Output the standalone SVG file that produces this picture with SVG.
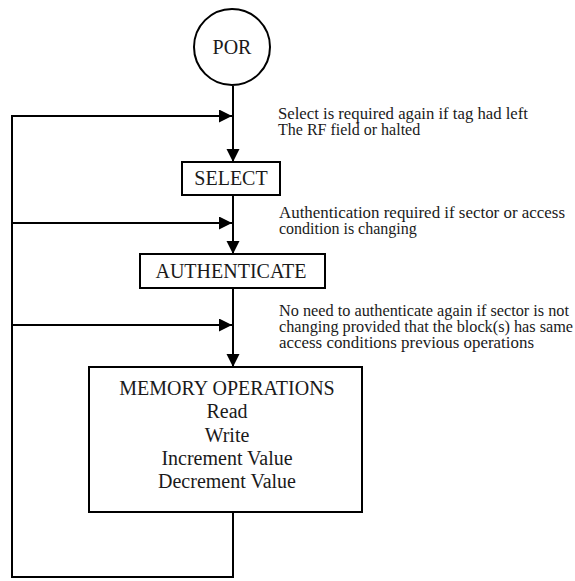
<svg xmlns="http://www.w3.org/2000/svg" width="575" height="581" viewBox="0 0 575 581">
<style>
.shape{fill:#fff;stroke:#000;stroke-width:2}
.lbl,.note{font-family:"Liberation Serif","Tinos","Times New Roman","Times","Nimbus Roman","Nimbus Roman No9 L","FreeSerif","DejaVu Serif","Noto Serif","Noto Serif CJK SC","Source Han Serif SC","Droid Serif",Georgia,serif;fill:#1a1a1a}
.lbl{font-size:20px;text-anchor:middle}
.note{font-size:16px}
.conn{fill:none;stroke:#000;stroke-width:2}
</style>
<defs>
<marker id="arr" markerUnits="userSpaceOnUse" markerWidth="14" markerHeight="14" refX="13" refY="6.5" orient="auto">
<path d="M0,0 L13,6.5 L0,13 z" fill="#000"/>
</marker>
</defs>
<rect width="575" height="581" fill="#fff"/>
<g id="connectors">
<path class="conn" d="M233,86 V162" marker-end="url(#arr)"/>
<path class="conn" d="M233,195 V254" marker-end="url(#arr)"/>
<path class="conn" d="M233,288 V367" marker-end="url(#arr)"/>
<path class="conn" d="M233,512 V577 H12 V116 H232" marker-end="url(#arr)"/>
<path class="conn" d="M12,223 H232" marker-end="url(#arr)"/>
<path class="conn" d="M12,325 H232" marker-end="url(#arr)"/>
</g>
<g id="por">
<circle class="shape" cx="232" cy="47" r="38"/>
<text class="lbl" x="232" y="54">POR</text>
</g>
<g id="select">
<rect class="shape" x="182" y="162" width="98" height="33"/>
<text class="lbl" x="231" y="185">SELECT</text>
</g>
<g id="authenticate">
<rect class="shape" x="140" y="254" width="185" height="34"/>
<text class="lbl" x="231" y="278">AUTHENTICATE</text>
</g>
<g id="memory">
<rect class="shape" x="89" y="367" width="273" height="145"/>
<text class="lbl" x="227" y="395">MEMORY OPERATIONS</text>
<text class="lbl" x="227" y="418">Read</text>
<text class="lbl" x="227" y="442">Write</text>
<text class="lbl" x="227" y="465">Increment Value</text>
<text class="lbl" x="227" y="488">Decrement Value</text>
</g>
<g id="notes">
<text class="note" x="278" y="119" textLength="250" lengthAdjust="spacingAndGlyphs">Select is required again if tag had left</text>
<text class="note" x="278" y="135">The RF field or halted</text>
<text class="note" x="279" y="218" textLength="286" lengthAdjust="spacingAndGlyphs">Authentication required if sector or access</text>
<text class="note" x="279" y="234">condition is changing</text>
<text class="note" x="279" y="316" textLength="290" lengthAdjust="spacingAndGlyphs">No need to authenticate again if sector is not</text>
<text class="note" x="279" y="332" textLength="294" lengthAdjust="spacingAndGlyphs">changing provided that the block(s) has same</text>
<text class="note" x="279" y="348" textLength="255" lengthAdjust="spacingAndGlyphs">access conditions previous operations</text>
</g>
</svg>
